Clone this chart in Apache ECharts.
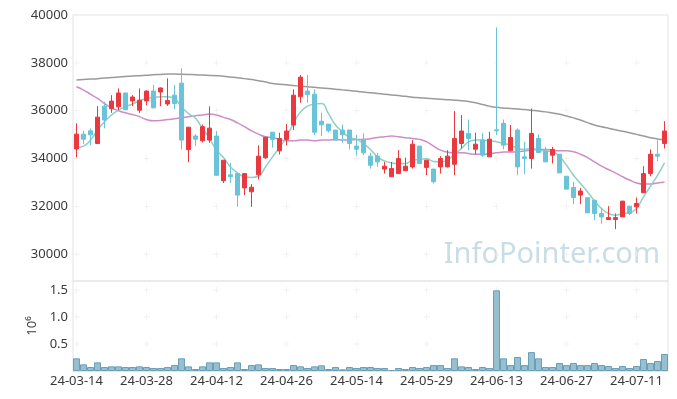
<!DOCTYPE html>
<html>
<head>
<meta charset="utf-8">
<script src="https://cdn.jsdelivr.net/npm/echarts@6/dist/echarts.min.js"></script>
<style>
  html, body { margin: 0; padding: 0; background: #fff; }
  #chart { width: 677px; height: 399px; }
</style>
</head>
<body>
<div id="chart"></div>
<script>
const dates = [
  '24-03-14', '24-03-15', '24-03-18', '24-03-19', '24-03-20', '24-03-21', '24-03-22', '24-03-25', '24-03-26', '24-03-27',
  '24-03-28', '24-03-29', '24-04-01', '24-04-02', '24-04-03', '24-04-04', '24-04-05', '24-04-08', '24-04-09', '24-04-11',
  '24-04-12', '24-04-15', '24-04-16', '24-04-17', '24-04-18', '24-04-19', '24-04-22', '24-04-23', '24-04-24', '24-04-25',
  '24-04-26', '24-04-29', '24-04-30', '24-05-02', '24-05-03', '24-05-07', '24-05-08', '24-05-09', '24-05-10', '24-05-13',
  '24-05-14', '24-05-16', '24-05-17', '24-05-20', '24-05-21', '24-05-22', '24-05-23', '24-05-24', '24-05-27', '24-05-28',
  '24-05-29', '24-05-30', '24-05-31', '24-06-03', '24-06-04', '24-06-05', '24-06-07', '24-06-10', '24-06-11', '24-06-12',
  '24-06-13', '24-06-14', '24-06-17', '24-06-18', '24-06-19', '24-06-20', '24-06-21', '24-06-24', '24-06-25', '24-06-26',
  '24-06-27', '24-06-28', '24-07-01', '24-07-02', '24-07-03', '24-07-04', '24-07-05', '24-07-08', '24-07-09', '24-07-10',
  '24-07-11', '24-07-12', '24-07-15', '24-07-16', '24-07-17'
]

const openPrices = [
  34400, 35020, 35160, 34630, 36190, 36080, 36160, 36740, 36410, 36020,
  36410, 36820, 36780, 36280, 36650, 37150, 34370, 34940, 34740, 34770,
  34940, 33070, 33320, 33370, 32770, 32610, 33320, 34030, 35100, 34320,
  34800, 35400, 36580, 36820, 36690, 35560, 35440, 35190, 35190, 35190,
  34520, 34800, 34100, 34100, 33560, 33240, 33370, 33490, 33650, 34520,
  33630, 33560, 33650, 33650, 33760, 34630, 35050, 34390, 34770, 34070,
  35200, 35470, 34320, 35190, 34070, 34000, 34840, 34310, 34140, 34180,
  33260, 32790, 32470, 32360, 32260, 31700, 31450, 31450, 31560, 32010,
  31980, 32570, 33370, 34180, 34630
]
const closePrices = [
  35020, 34810, 34990, 35730, 35610, 36400, 36740, 36040, 36570, 36440,
  36820, 36120, 36950, 36430, 36300, 34770, 35310, 34810, 35330, 35270,
  33300, 33930, 33240, 32470, 33370, 32800, 34100, 34890, 34800, 34840,
  35150, 36650, 37400, 36670, 35100, 35410, 35160, 34770, 34990, 34630,
  34390, 34240, 33720, 33860, 33680, 33580, 34000, 33680, 34600, 33790,
  33930, 33030, 34000, 34100, 34840, 35150, 34840, 34600, 34140, 34810,
  35160, 34560, 34880, 33650, 34000, 35050, 34250, 33860, 34380, 33400,
  32720, 32370, 32640, 31730, 31700, 31560, 31530, 31530, 32220, 31700,
  32120, 33370, 34180, 34100, 35150
]
const lowPrices = [
  34050, 34600, 34560, 34600, 35260, 35910, 36020, 36020, 36190, 35910,
  36220, 36100, 36190, 36200, 36070, 34380, 33850, 34520, 34670, 34660,
  33300, 32980, 32980, 31980, 32470, 31980, 33120, 33990, 34460, 34170,
  34550, 35190, 36330, 36330, 34980, 34940, 35090, 34770, 34660, 34380,
  34130, 34140, 33580, 33650, 33370, 33240, 33370, 33490, 33580, 33790,
  33300, 32960, 33370, 33630, 33300, 34420, 34350, 34180, 34070, 34070,
  34980, 34380, 34320, 33300, 33350, 33580, 34250, 33860, 33790, 33400,
  32720, 32090, 32090, 31730, 31420, 31280, 31450, 31050, 31560, 31630,
  31700, 32570, 33260, 33890, 34420
]
const highPrices = [
  35470, 35160, 35260, 36190, 36370, 36650, 36930, 36740, 36650, 36930,
  36850, 37070, 36970, 37350, 37070, 37770, 35310, 35020, 35420, 36180,
  35150, 33930, 33820, 33370, 33370, 32930, 34550, 34890, 35100, 35080,
  35440, 36890, 37490, 37490, 36890, 35910, 35440, 35190, 35420, 35190,
  34990, 35050, 34240, 34240, 33860, 33860, 34350, 34040, 34770, 34520,
  33930, 33560, 34100, 34350, 35980, 35820, 35630, 35080, 35080, 35120,
  39480, 35630, 35400, 35260, 34700, 36090, 35010, 34490, 34490, 34180,
  33260, 33030, 32770, 32360, 32260, 31940, 32010, 31700, 32220, 32010,
  32370, 33680, 34380, 34770, 35560
]

// volume, millions of shares
const volumes = [
  0.235, 0.123, 0.074, 0.160, 0.074, 0.086, 0.086, 0.074, 0.074, 0.086,
  0.074, 0.056, 0.056, 0.074, 0.110, 0.235, 0.086, 0.037, 0.086, 0.160,
  0.160, 0.056, 0.074, 0.160, 0.037, 0.110, 0.123, 0.056, 0.056, 0.037,
  0.037, 0.110, 0.086, 0.056, 0.086, 0.105, 0.037, 0.074, 0.031, 0.074,
  0.056, 0.074, 0.074, 0.056, 0.056, 0.019, 0.056, 0.037, 0.074, 0.056,
  0.074, 0.110, 0.110, 0.056, 0.235, 0.086, 0.074, 0.037, 0.074, 0.056,
  1.494, 0.235, 0.110, 0.260, 0.110, 0.350, 0.235, 0.074, 0.074, 0.148,
  0.110, 0.148, 0.110, 0.110, 0.148, 0.110, 0.093, 0.056, 0.093, 0.056,
  0.093, 0.222, 0.148, 0.185, 0.315
]

const ma5 = [
  34460, 34520, 34770, 35190, 35540, 35820, 36020, 36160, 36280, 36410,
  36510, 36560, 36580, 36580, 36510, 36160, 35880, 35680, 35260, 34840,
  34350, 34040, 33650, 33400, 33240, 33210, 33260, 33650, 34070, 34460,
  34910, 35470, 35950, 36190, 36280, 36300, 35880, 35400, 35120, 34880,
  34800, 34620, 34380, 34070, 33900, 33820, 33790, 33790, 33930, 33960,
  33990, 33880, 33860, 33930, 34170, 34420, 34700, 34770, 34770, 34740,
  34700, 34630, 34560, 34420, 34380, 34420, 34350, 34310, 34280, 34080,
  33720, 33300, 32960, 32610, 32230, 31910, 31700, 31630, 31700, 31730,
  31910, 32400, 32840, 33300, 33820
]
const ma20 = [
  37000, 36860, 36690, 36510, 36300, 36120, 36000, 35910, 35840, 35750,
  35630, 35580, 35590, 35630, 35660, 35700, 35750, 35790, 35820, 35860,
  35820, 35720, 35630, 35490, 35330, 35160, 35020, 34910, 34880, 34800,
  34740, 34740, 34770, 34770, 34740, 34770, 34770, 34800, 34770, 34770,
  34800, 34800, 34830, 34880, 34910, 34940, 34910, 34870, 34840, 34800,
  34700, 34520, 34350, 34270, 34240, 34240, 34210, 34180, 34180, 34210,
  34240, 34270, 34270, 34280, 34310, 34350, 34380, 34380, 34350, 34320,
  34320, 34280, 34180, 34040, 33860, 33680, 33540, 33400, 33240, 33100,
  32980, 32930, 32930, 32980, 33010
]
const ma60 = [
  37280, 37300, 37320, 37340, 37365, 37390, 37410, 37430, 37450, 37465,
  37480, 37500, 37515, 37530, 37530, 37525, 37515, 37500, 37490, 37475,
  37460, 37440, 37410, 37380, 37340, 37300, 37250, 37200, 37140, 37110,
  37080, 37050, 37020, 37000, 36975, 36950, 36925, 36900, 36870, 36840,
  36810, 36780, 36750, 36720, 36690, 36660, 36630, 36600, 36560, 36540,
  36520, 36500, 36480, 36460, 36440, 36416, 36380, 36330, 36260, 36190,
  36140, 36110, 36090, 36070, 36050, 36020, 35990, 35950, 35900, 35850,
  35780, 35700, 35610, 35500, 35400, 35330, 35270, 35200, 35140, 35080,
  35010, 34940, 34870, 34820, 34780
]

const priceTicks = [30000, 32000, 34000, 36000, 38000, 40000]
const volumeTicks = [0.5, 1.0, 1.5]
const labelStep = 10

const red = '#e9393e'
const blue = '#6ac3d9'
const textColor = '#3a3a3a'
const frame = '#e3e3e3'
const fontFamily = 'Noto Sans, sans-serif'

const candles = dates.map((_, i) => [openPrices[i], closePrices[i], lowPrices[i], highPrices[i]])

// little "+" marks where the grid lines would cross
const crossPath = 'path://M3,0H4V3H7V4H4V7H3V4H0V3H3Z'
const priceCrosses = []
const volumeCrosses = []
for (let i = 0; i < dates.length; i += labelStep) {
  priceTicks.slice(0, -1).forEach(v => priceCrosses.push([i, v]))
  volumeTicks.forEach(v => volumeCrosses.push([i, v]))
}

const chart = echarts.init(document.getElementById('chart'))
chart.setOption({
  animation: false,
  textStyle: { fontFamily },
  grid: [
    { left: 73, right: 9, top: 15, height: 266, show: true, borderColor: frame, borderWidth: 1, outerBoundsMode: 'none' },
    { left: 73, right: 9, top: 281, bottom: 28, show: true, borderColor: frame, borderWidth: 1, outerBoundsMode: 'none' },
  ],
  xAxis: [
    {
      type: 'category',
      gridIndex: 0,
      data: dates,
      boundaryGap: true,
      axisLine: { show: false },
      axisTick: { show: false },
      axisLabel: { show: false },
      splitLine: { show: false },
    },
    {
      type: 'category',
      gridIndex: 1,
      data: dates,
      boundaryGap: true,
      axisLine: { show: true, lineStyle: { color: frame } },
      axisTick: { show: false },
      axisLabel: { interval: labelStep - 1, color: textColor, fontSize: 13, margin: 4, fontFamily },
      splitLine: { show: false },
    },
  ],
  yAxis: [
    {
      type: 'value',
      gridIndex: 0,
      min: 28880,
      max: 40000,
      axisLine: { show: false },
      axisTick: { show: false, customValues: priceTicks },
      axisLabel: {
        customValues: priceTicks,
        color: textColor,
        fontSize: 13,
        margin: 5,
        fontFamily,
        formatter: v => String(v),
      },
      splitLine: { show: false },
    },
    {
      type: 'value',
      gridIndex: 1,
      min: 0,
      max: 1.667,
      name: '10⁶',
      nameLocation: 'middle',
      nameRotate: 90,
      nameGap: 32,
      nameTextStyle: { color: textColor, fontSize: 13, fontFamily },
      axisLine: { show: false },
      axisTick: { show: false, customValues: volumeTicks },
      axisLabel: {
        customValues: volumeTicks,
        color: textColor,
        fontSize: 13,
        margin: 5,
        fontFamily,
        formatter: v => v.toFixed(1),
      },
      splitLine: { show: false },
    },
  ],
  graphic: [
    {
      type: 'text',
      right: 17,
      top: 240,
      style: {
        text: 'InfoPointer.com',
        fill: '#c9dde6',
        font: '29px "Noto Sans", sans-serif',
      },
      silent: true,
    },
  ],
  series: [
    {
      type: 'scatter',
      xAxisIndex: 0,
      yAxisIndex: 0,
      data: priceCrosses,
      symbol: crossPath,
      symbolSize: 6,
      itemStyle: { color: '#ececec' },
      silent: true,
      z: 1,
    },
    {
      type: 'scatter',
      xAxisIndex: 1,
      yAxisIndex: 1,
      data: volumeCrosses,
      symbol: crossPath,
      symbolSize: 6,
      itemStyle: { color: '#ececec' },
      silent: true,
      z: 1,
    },
    {
      name: 'MA60',
      type: 'line',
      data: ma60,
      symbol: 'none',
      smooth: true,
      lineStyle: { color: '#9a9a9a', width: 1.5 },
      z: 2,
    },
    {
      name: 'MA20',
      type: 'line',
      data: ma20,
      symbol: 'none',
      smooth: true,
      lineStyle: { color: '#cc8dc8', width: 1.5 },
      z: 2,
    },
    {
      name: 'MA5',
      type: 'line',
      data: ma5,
      symbol: 'none',
      smooth: true,
      lineStyle: { color: '#8fd0c4', width: 1.5 },
      z: 2,
    },
    {
      type: 'candlestick',
      data: candles,
      barWidth: 5,
      itemStyle: {
        color: red,
        color0: blue,
        borderColor: red,
        borderColor0: blue,
        borderWidth: 1,
      },
      z: 3,
    },
    {
      type: 'bar',
      xAxisIndex: 1,
      yAxisIndex: 1,
      data: volumes,
      barWidth: '100%',
      itemStyle: { color: '#96bfd0', borderColor: '#6b9fb6', borderWidth: 1 },
      z: 3,
    },
  ],
})
</script>
</body>
</html>
